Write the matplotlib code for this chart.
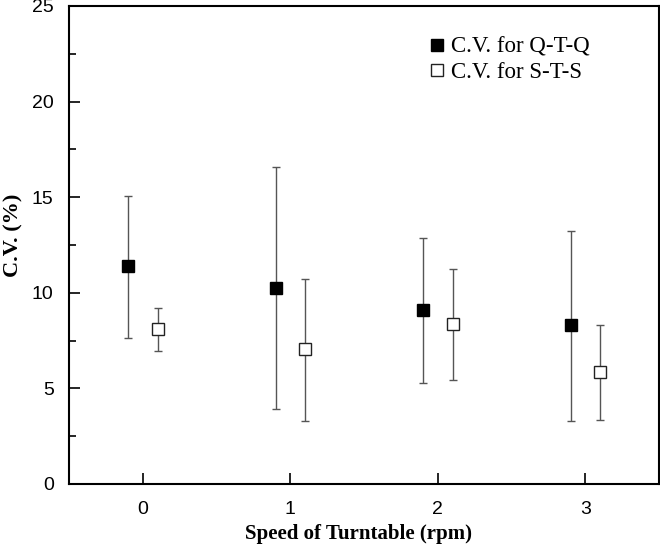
import matplotlib
matplotlib.use("Agg")
import matplotlib.pyplot as plt
from matplotlib.ticker import MultipleLocator
import numpy as np

speeds = [0, 1, 2, 3]
qtq_mean = [11.39, 10.25, 9.12, 8.30]
qtq_low = [7.66, 3.91, 5.30, 3.27]
qtq_high = [15.04, 16.58, 12.85, 13.23]
sts_mean = [8.10, 7.07, 8.35, 5.87]
sts_low = [6.93, 3.31, 5.45, 3.33]
sts_high = [9.23, 10.73, 11.22, 8.33]

offset = 0.1

fig = plt.figure(figsize=(6.6, 5.49), dpi=100)
ax = fig.add_axes([69/660, 1-484/549, 590/660, 478/549])

x = np.array(speeds, dtype=float)
qm = np.array(qtq_mean); sm = np.array(sts_mean)
q_err = [qm - np.array(qtq_low), np.array(qtq_high) - qm]
s_err = [sm - np.array(sts_low), np.array(sts_high) - sm]

ax.errorbar(x - offset, qm, yerr=q_err, fmt='s', color='black', ecolor='#555555',
            elinewidth=1, capsize=3, capthick=1, markersize=8.5,
            markerfacecolor='black', markeredgecolor='black', label='C.V. for Q-T-Q', zorder=3)
ax.errorbar(x + offset, sm, yerr=s_err, fmt='s', color='black', ecolor='#555555',
            elinewidth=1, capsize=3, capthick=1, markersize=8,
            markerfacecolor='white', markeredgecolor='#222222', markeredgewidth=1,
            label='C.V. for S-T-S', zorder=3)

ax.set_xlim(-0.5, 3.5)
ax.set_ylim(0, 25)
ax.set_xticks(speeds)
ax.yaxis.set_major_locator(MultipleLocator(5))
ax.yaxis.set_minor_locator(MultipleLocator(2.5))
ax.tick_params(axis='both', which='major', direction='in', length=8, width=1.2,
               labelsize=14)
ax.tick_params(axis='x', pad=12)
ax.tick_params(axis='y', pad=11)
ax.tick_params(axis='y', which='minor', direction='in', length=5, width=1.2)
for lab in ax.get_xticklabels() + ax.get_yticklabels():
    lab.set_family('Liberation Sans')
for sp in ax.spines.values():
    sp.set_linewidth(1.5)

ax.set_xlabel('Speed of Turntable (rpm)', family='Liberation Serif', fontweight='bold',
              fontsize=15)
ax.set_ylabel('C.V. (%)', family='Liberation Serif', fontweight='bold',
              fontsize=16)
ax.xaxis.set_label_coords(0.49, -0.083)
ax.yaxis.set_label_coords(-0.077, 0.521)

h, l = ax.get_legend_handles_labels()
h = [hh[0] for hh in h]
leg = ax.legend(h, l, loc='upper left', bbox_to_anchor=(0.597, 0.955), frameon=False,
                prop={'family': 'Liberation Serif', 'size': 16.5},
                handlelength=0.6, handletextpad=0.3, labelspacing=0.2, borderaxespad=0)

fig.savefig('out.png', dpi=100)
